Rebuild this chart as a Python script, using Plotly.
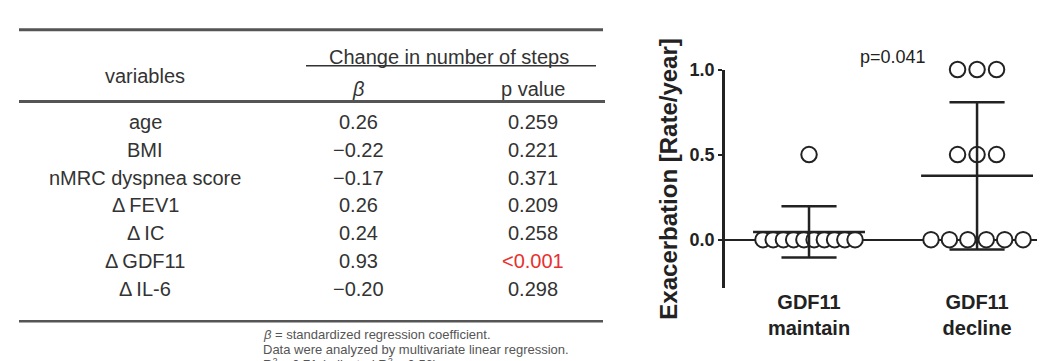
import numpy as np
import plotly.graph_objects as go

# ---------------- data ----------------
variables = ["age", "BMI", "nMRC dyspnea score", "Δ\u2009FEV1", "Δ\u2009IC", "Δ\u2009GDF11", "Δ\u2009IL-6"]
beta_values = [0.26, -0.22, -0.17, 0.26, 0.24, 0.93, -0.20]
p_values = ["0.259", "0.221", "0.371", "0.209", "0.258", "<0.001", "0.298"]
p_significant = [False, False, False, False, False, True, False]
header_group = "Change in number of steps"
header_cols = ["variables", "<i>β</i>", "p value"]
footnotes = [
    "<i>β</i> = standardized regression coefficient.",
    "Data were analyzed by multivariate linear regression.",
    "R<sup>2</sup> = 0.71 (adjusted R<sup>2</sup> = 0.56).",
]

groups = ["GDF11<br>maintain", "GDF11<br>decline"]
maintain_rates = [0.5, 0, 0, 0, 0, 0, 0, 0, 0, 0, 0]
decline_rates = [1.0, 1.0, 1.0, 0.5, 0.5, 0.5, 0, 0, 0, 0, 0, 0]
p_label = "p=0.041"
y_ticks = [0.0, 0.5, 1.0]

# ---------------- styling ----------------
W, H = 1045, 361
INK = "#222222"
TXT = "#333333"
RULE = "#555555"
TFONT = "Liberation Sans, Arial, sans-serif"

fig = go.Figure()

# ---- right panel: scatter with mean ± SD ----
def swarm(vals, center):
    xs, ys = [], []
    for v in sorted(set(vals), reverse=True):
        n = vals.count(v)
        step = min(0.116, 0.548 / (n - 1)) if n > 1 else 0.0
        for k in range(n):
            xs.append(center + (k - (n - 1) / 2) * step)
            ys.append(v)
    return xs, ys

ex, ey = [], []
for gi, vals in enumerate([maintain_rates, decline_rates]):
    xs, ys = swarm(vals, gi)
    fig.add_trace(go.Scatter(
        x=xs, y=ys, mode="markers", cliponaxis=False, showlegend=False,
        marker=dict(size=15.5, color="white", line=dict(color=INK, width=2)),
        xaxis="x", yaxis="y"))
    m = float(np.mean(vals))
    sd = float(np.std(vals, ddof=1))
    ex += [gi - 0.333, gi + 0.333, None,
           gi, gi, None,
           gi - 0.164, gi + 0.164, None,
           gi - 0.164, gi + 0.164, None]
    ey += [m, m, None,
           m - sd, m + sd, None,
           m + sd, m + sd, None,
           m - sd, m - sd, None]

fig.add_trace(go.Scatter(x=ex, y=ey, mode="lines", cliponaxis=False, showlegend=False,
                         line=dict(color=INK, width=2.5), xaxis="x", yaxis="y"))

fig.add_annotation(x=0.5, y=1 - 40 / H, xref="x", yref="paper", text=p_label, showarrow=False,
                   font=dict(family=TFONT, size=18, color=INK), xanchor="center", yanchor="middle")

# ---- left panel: table (on its own pixel-like axis) ----
ROW0, ROW_H = 107, 28.6
COL_X = [137, 350, 525]
L, R = 11, 595

def line(x0, x1, y, w, color=RULE):
    fig.add_shape(type="line", xref="x2", yref="y2", x0=x0, x1=x1, y0=y, y1=y,
                  line=dict(color=color, width=w))

def txt(x, y, s, size=20, color=TXT, anchor="center"):
    fig.add_annotation(x=x, y=y, xref="x2", yref="y2", text=s, showarrow=False,
                       xanchor=anchor, yanchor="middle",
                       font=dict(family=TFONT, size=size, color=color))

line(L, R, 12, 3)
txt(441, 40, header_group)
line(298, 588, 49, 1.5, TXT)
txt(COL_X[0], 60, header_cols[0])
txt(COL_X[1], 73, header_cols[1])
txt(COL_X[2], 73, header_cols[2])
line(L, R + 2, 86, 3)

for i, (v, b, p, sig) in enumerate(zip(variables, beta_values, p_values, p_significant)):
    y = ROW0 + i * ROW_H
    txt(COL_X[0], y, v)
    txt(COL_X[1], y, f"{b:.2f}".replace("-", "−"))
    txt(COL_X[2], y, p.replace("<", "&lt;"), color="#e8302e" if sig else TXT)

line(L, R, 312, 2.5)
for k, f in enumerate(footnotes):
    txt(253, 326 + 15 * k, f, size=13, color="#555555", anchor="left")

# ---------------- layout ----------------
fig.update_layout(
    width=W, height=H, margin=dict(l=0, r=0, t=0, b=0),
    paper_bgcolor="white", plot_bgcolor="white", showlegend=False,
    xaxis=dict(domain=[717 / W, 1.0], range=[-0.5, 1.452], showgrid=False, zeroline=False,
               showline=False, tickvals=[0, 1], ticktext=groups, ticks="",
               tickfont=dict(family=TFONT, size=20, color=INK, weight="bold")),
    yaxis=dict(domain=[1 - 278 / H, 1 - 53 / H], range=[-0.286, 1.0], showgrid=False,
               zeroline=True, zerolinecolor=INK, zerolinewidth=2,
               showline=True, linecolor=INK, linewidth=2.5,
               ticks="outside", ticklen=4, tickwidth=2, tickcolor=INK,
               tickvals=y_ticks, ticktext=[f"{t:.1f}" for t in y_ticks],
               tickfont=dict(family=TFONT, size=18, color=INK, weight="bold"),
               title=dict(text="Exacerbation [Rate/year]", standoff=6,
                          font=dict(family=TFONT, size=24, color=INK, weight="bold"))),
    xaxis2=dict(domain=[0, 0.62], range=[0, 0.62 * W], visible=False, fixedrange=True),
    yaxis2=dict(domain=[0, 1], range=[H, 0], visible=False, fixedrange=True),
)

fig.write_html("out.html")
